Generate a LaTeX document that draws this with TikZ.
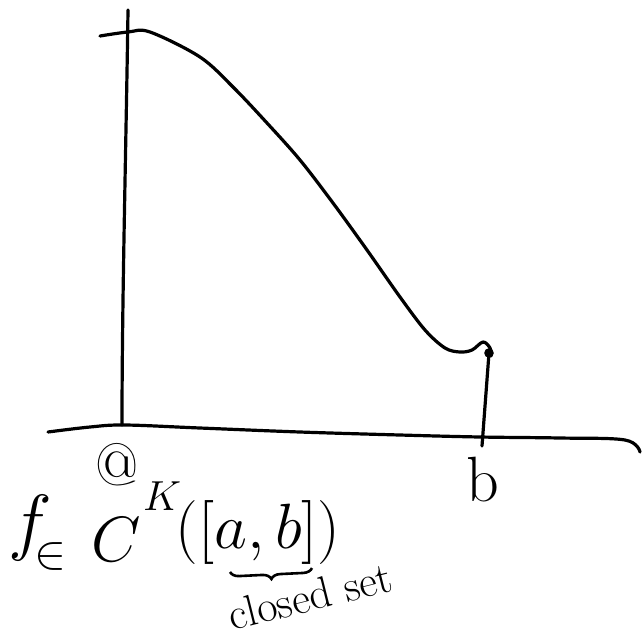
\RequirePackage{fix-cm}
\documentclass[tikz,border=0pt]{standalone}
\usetikzlibrary{decorations.pathreplacing}
\begin{document}
\begin{tikzpicture}[x=1pt,y=-1pt,
  stroke/.style={line width=3.2pt,line cap=round,line join=round},
  hand/.style={inner sep=0pt,anchor=center},
]
\useasboundingbox (0,0) rectangle (642,641);
% vertical axis
\coordinate (vtop) at (128,10);
\coordinate (vbot) at (122,425);
\draw[stroke] (vtop) .. controls (126,150) and (122,300) .. (vbot);
% horizontal axis
\draw[stroke] plot[smooth,tension=0.6] coordinates {(48,432) (90,427) (125,425) (200,428) (300,432) (400,435) (480,437) (560,438) (625,440) (640,452)};
% curve
\draw[stroke] plot[smooth,tension=0.55] coordinates {(100,36) (128,32) (150,32) (200,57) (233,87) (267,123) (300,160) (333,203) (367,250) (400,297) (425,330) (445,348) (460,352) (472,350) (483,342) (490,348) (491,356)};
% vertical line at b
\coordinate (btop) at (489,353);
\coordinate (bbot) at (482,446);
\draw[stroke] (bbot) -- (btop);
\fill (btop) circle (4.8pt);
% labels
\node[hand,font=\fontsize{60}{60}\selectfont] (alab) at (117,465) {@};
\node[hand,font=\fontsize{64}{64}\selectfont] (blab) at (483,480) {b};
\node[hand,font=\fontsize{74}{74}\selectfont] (fsym) at (30,528) {$f$};
\node[hand,font=\fontsize{48}{48}\selectfont] (insym) at (50,556) {$\in$};
\node[hand,font=\fontsize{64}{64}\selectfont] (csym) at (116,540) {$C$};
\node[hand,font=\fontsize{42}{42}\selectfont] (kexp) at (162,496) {$K$};
\node[hand,font=\fontsize{64}{64}\selectfont] (args) at (258,532) {$([a,b])$};
\coordinate (brl) at (230,572);
\coordinate (brr) at (312,568);
\draw[line width=2.6pt,decorate,decoration={brace,mirror,amplitude=9pt}] (brl) -- (brr);
\node[hand,rotate=14,font=\fontsize{44}{44}\selectfont] (closed) at (310,596) {closed set};
\end{tikzpicture}
\end{document}
